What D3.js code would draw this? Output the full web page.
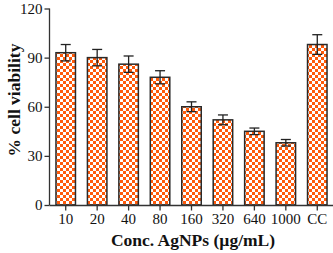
<!DOCTYPE html>
<html><head><meta charset="utf-8">
<script src="https://cdn.jsdelivr.net/npm/d3@7"></script>
<style>body{margin:0;background:#fff}svg{display:block}</style>
</head><body><svg id="c" width="333" height="253"></svg>
<script>
const categories = ["10","20","40","80","160","320","640","1000","CC"];
const values = [93, 90, 86, 78, 60, 52, 45, 38, 98];
const errors = [5, 5, 5, 4, 3, 3, 2, 2, 6];
const yTicks = [0, 30, 60, 90, 120];

const svg = d3.select("#c");
const defs = svg.append("defs");
const pat = defs.append("pattern").attr("id","chk").attr("patternUnits","userSpaceOnUse")
  .attr("width",6).attr("height",6);
pat.append("rect").attr("width",6).attr("height",6).attr("fill","#fff");
pat.append("rect").attr("width",3).attr("height",3).attr("fill","#ff5a0a");
pat.append("rect").attr("x",3).attr("y",3).attr("width",3).attr("height",3).attr("fill","#ff5a0a");

const x = d3.scaleBand().domain(categories).range([50, 333]).paddingInner(0.38).paddingOuter(0.19);
const y = d3.scaleLinear().domain([0,120]).range([205, 8.5]);
const font = "'Liberation Serif', 'Times New Roman', serif";

const g = svg.append("g");
g.selectAll("rect.bar").data(categories).join("rect").attr("class","bar")
  .attr("x", d => x(d)).attr("width", x.bandwidth())
  .attr("y", (d,i) => y(values[i])).attr("height", (d,i) => y(0) - y(values[i]))
  .attr("fill","url(#chk)").attr("stroke","#2a2a2a").attr("stroke-width",1.5);

const eb = g.selectAll("g.eb").data(categories).join("g").attr("class","eb")
  .attr("stroke","#222").attr("stroke-width",1.3);
eb.append("line").attr("x1", d => x(d)+x.bandwidth()/2).attr("x2", d => x(d)+x.bandwidth()/2)
  .attr("y1", (d,i) => y(values[i]+errors[i])).attr("y2", (d,i) => y(values[i]-errors[i]));
eb.append("line").attr("x1", d => x(d)+x.bandwidth()/2-5).attr("x2", d => x(d)+x.bandwidth()/2+5)
  .attr("y1", (d,i) => y(values[i]+errors[i])).attr("y2", (d,i) => y(values[i]+errors[i]));
eb.append("line").attr("x1", d => x(d)+x.bandwidth()/2-5).attr("x2", d => x(d)+x.bandwidth()/2+5)
  .attr("y1", (d,i) => y(values[i]-errors[i])).attr("y2", (d,i) => y(values[i]-errors[i]));

const ya = svg.append("g").attr("transform","translate(49.5,0)")
  .call(d3.axisLeft(y).tickValues(yTicks).tickSize(5).tickPadding(2));
const xa = svg.append("g").attr("transform","translate(0,205.5)")
  .call(d3.axisBottom(x).tickSize(5).tickPadding(3).tickSizeOuter(0));
[ya, xa].forEach(a => {
  a.select(".domain").attr("stroke","#333").attr("stroke-width",1.3);
  a.selectAll(".tick line").attr("stroke","#333").attr("stroke-width",1.3);
  a.selectAll("text").attr("font-family",font).attr("font-size",15).attr("fill","#111");
});
ya.select(".domain").attr("d","M0,8.5V205");
xa.select(".domain").attr("d","M49.5,0H333");

svg.append("text").attr("x",193).attr("y",246).attr("text-anchor","middle")
  .attr("font-family",font).attr("font-weight","bold").attr("font-size",17.5).attr("fill","#111")
  .text("Conc. AgNPs (µg/mL)");
svg.append("text").attr("transform","translate(20,100) rotate(-90)").attr("text-anchor","middle")
  .attr("font-family",font).attr("font-weight","bold").attr("font-size",17.5).attr("fill","#111")
  .text("% cell viability");
</script></body></html>
